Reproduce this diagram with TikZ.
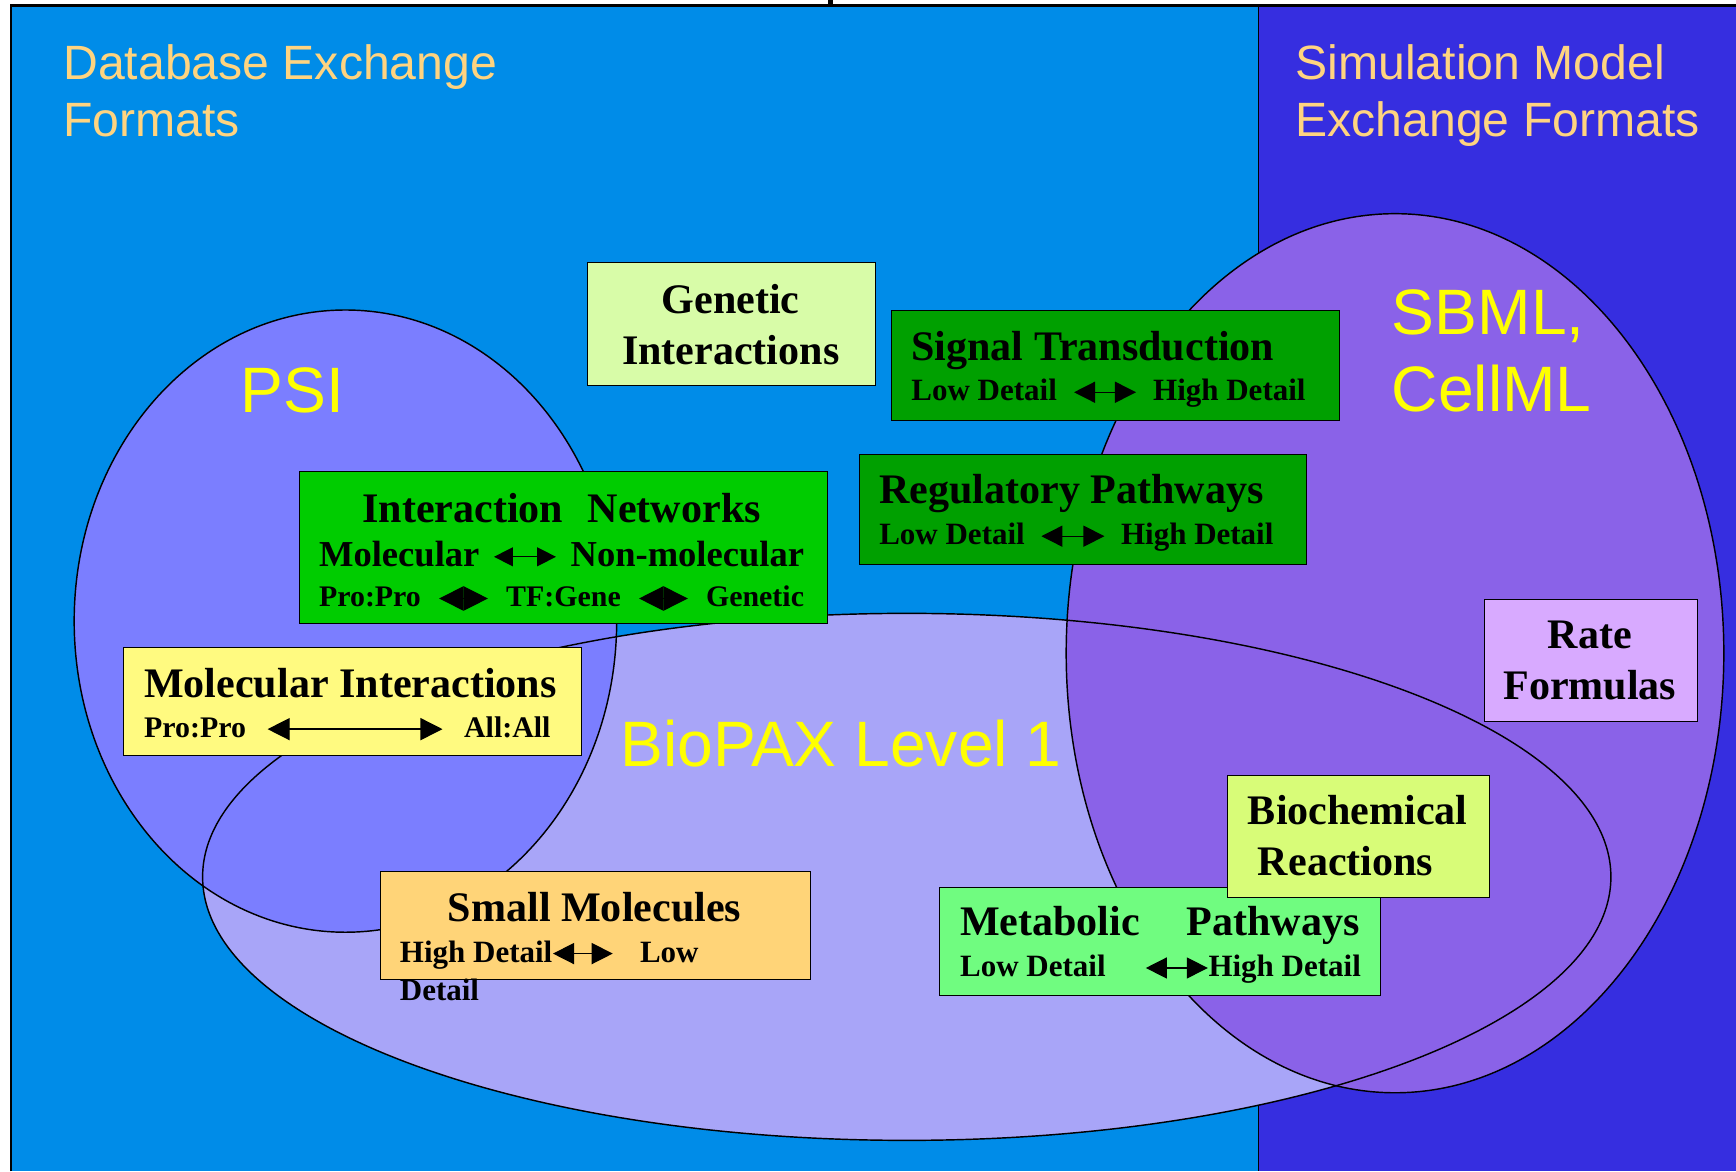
\documentclass[tikz,border=0pt]{standalone}
\usepackage{fontspec}
\setmainfont{Liberation Serif}
\newfontfamily\arialfont{Liberation Sans}
\usetikzlibrary{arrows.meta}

\definecolor{dbblue}{RGB}{0,140,232}
\definecolor{simblue}{RGB}{54,46,224}
\definecolor{titlegold}{RGB}{255,212,128}
\definecolor{setyellow}{RGB}{255,255,0}
\definecolor{biopaxfill}{RGB}{168,165,248}
\definecolor{psifill}{RGB}{123,126,255}
\definecolor{sbmlfill}{RGB}{138,98,232}
\definecolor{genfill}{RGB}{216,252,168}
\definecolor{darkgreen}{RGB}{0,160,0}
\definecolor{netgreen}{RGB}{0,204,0}
\definecolor{molfill}{RGB}{255,250,128}
\definecolor{smallfill}{RGB}{255,212,120}
\definecolor{ratefill}{RGB}{216,170,255}
\definecolor{biochfill}{RGB}{216,252,120}
\definecolor{metabfill}{RGB}{112,252,128}

% double headed arrow used inside the box texts
\newcommand{\lrarrow}[2][19pt]{\tikz[baseline=-0.6ex]\draw[line width=1.2pt,{Triangle[length=#1,width=#1]}-{Triangle[length=#1,width=#1]}] (0pt,0pt) -- (#2,0pt);}

\tikzset{
  area label/.style={font=\arialfont\fontsize{43.5}{50}\selectfont, text=titlegold, inner sep=0pt, anchor=base west},
  set label/.style={font=\arialfont\fontsize{58}{64}\selectfont, text=setyellow, inner sep=0pt, anchor=base west},
  topic/.style={draw=black, line width=0.8pt, anchor=north west, inner sep=0pt},
  boxhead/.style={font=\fontsize{38}{40}\selectfont\bfseries, inner sep=0pt, anchor=base west},
  boxline/.style={font=\fontsize{28}{30}\selectfont\bfseries, inner sep=0pt, anchor=base west},
  set edge/.style={draw=black, line width=1.3pt}
}

\begin{document}
\begin{tikzpicture}[x=1pt,y=-1pt]
\useasboundingbox (0,0) rectangle (1568,1058);
\fill[white] (0,0) rectangle (1568,1058);

% the two areas
\fill[dbblue] (10,5) rectangle (1137,1058);
\fill[simblue] (1137,5) rectangle (1568,1058);
\draw[line width=2pt] (10,1058) -- (10,5) -- (1568,5);
\draw[line width=1pt] (1137,5) -- (1137,1058);
\fill (748,0) rectangle (752,5);

\node[area label] (dbt1) at (57,72) {Database Exchange};
\node[area label] (dbt2) at (57,123) {Formats};
\node[area label] (smt1) at (1170,72) {Simulation Model};
\node[area label] (smt2) at (1170,123) {Exchange Formats};

% the three sets
\fill[biopaxfill] (819,792) ellipse [x radius=636, y radius=238];
\fill[psifill] (312,561) ellipse [x radius=245, y radius=281];
\fill[sbmlfill] (1260,590) ellipse [x radius=297, y radius=397];
\draw[set edge] (819,792) ellipse [x radius=636, y radius=238];
\draw[set edge] (312,561) ellipse [x radius=245, y radius=281];
\draw[set edge] (1260,590) ellipse [x radius=297, y radius=397];

\node[set label] (psi) at (217,373) {PSI};
\node[set label] (sbml1) at (1257,302) {SBML,};
\node[set label] (sbml2) at (1257,372) {CellML};
\node[set label] (biopax) at (560,692) {BioPAX Level 1};

% topic boxes
\node[topic, fill=genfill, minimum width=260pt, minimum height=111pt] (genetic) at (530,237) {};
\node[boxhead, anchor=base] (genetic1) at (660,283) {Genetic};
\node[boxhead, anchor=base] (genetic2) at (660,329) {Interactions};

\node[topic, fill=darkgreen, minimum width=404pt, minimum height=99pt] (signal) at (805,280) {};
\node[boxhead] (signal1) at (823,326) {Signal Transduction};
\node[boxline] (signal2) at (823,362) {\makebox[356pt][s]{Low Detail\hfill\lrarrow{56pt}\hfill High Detail}};

\node[topic, fill=darkgreen, minimum width=404pt, minimum height=99pt] (regul) at (776,410) {};
\node[boxhead] (regul1) at (794,455) {Regulatory Pathways};
\node[boxline] (regul2) at (794,492) {\makebox[356pt][s]{Low Detail\hfill\lrarrow{57pt}\hfill High Detail}};

\node[topic, fill=netgreen, minimum width=477pt, minimum height=138pt] (inet) at (270,425) {};
\node[boxhead] (inet1) at (327,472) {\makebox[360pt][s]{Interaction\hfill Networks}};
\node[boxline, font=\fontsize{33}{35}\selectfont\bfseries] (inet2) at (288,512) {\makebox[438pt][s]{Molecular\hfill\lrarrow[17pt]{56pt}\hfill Non-molecular}};
\node[boxline, font=\fontsize{27}{29}\selectfont\bfseries] (inet3) at (288,548) {\makebox[438pt][s]{Pro:Pro\hfill\lrarrow[22pt]{44pt}\hfill TF:Gene\hfill\lrarrow[22pt]{44pt}\hfill Genetic}};

\node[topic, fill=molfill, minimum width=414pt, minimum height=98pt] (molint) at (111,584) {};
\node[boxhead] (molint1) at (130,630) {Molecular Interactions};
\node[boxline, font=\fontsize{27}{29}\selectfont\bfseries] (molint2) at (130,666) {\makebox[367pt][s]{Pro:Pro\hfill\lrarrow[20pt]{158pt}\hfill All:All}};

\node[topic, fill=smallfill, minimum width=389pt, minimum height=97pt] (small) at (343,787) {};
\node[boxhead, anchor=base] (small1) at (537,832) {Small Molecules};
\node[boxline] (small2) at (361,869) {High Detail\lrarrow{54pt}\hspace{24pt}Low};
\node[boxline] (small3) at (361,904) {Detail};

\node[topic, fill=ratefill, minimum width=193pt, minimum height=110pt] (rate) at (1340,541) {};
\node[boxhead, anchor=base] (rate1) at (1436,586) {Rate};
\node[boxhead, anchor=base] (rate2) at (1436,632) {Formulas};

\node[topic, fill=metabfill, minimum width=398pt, minimum height=98pt] (metab) at (848,801) {};
\node[boxhead] (metab1) at (867,845) {\makebox[361pt][s]{Metabolic\hfill Pathways}};
\node[boxline] (metab2) at (867,882) {\makebox[362pt][s]{Low Detail\hfill\lrarrow{56pt}High Detail}};

\node[topic, fill=biochfill, minimum width=237pt, minimum height=110pt] (bioch) at (1108,700) {};
\node[boxhead] (bioch1) at (1127,745) {Biochemical};
\node[boxhead] (bioch2) at (1136,791) {Reactions};
\end{tikzpicture}
\end{document}
